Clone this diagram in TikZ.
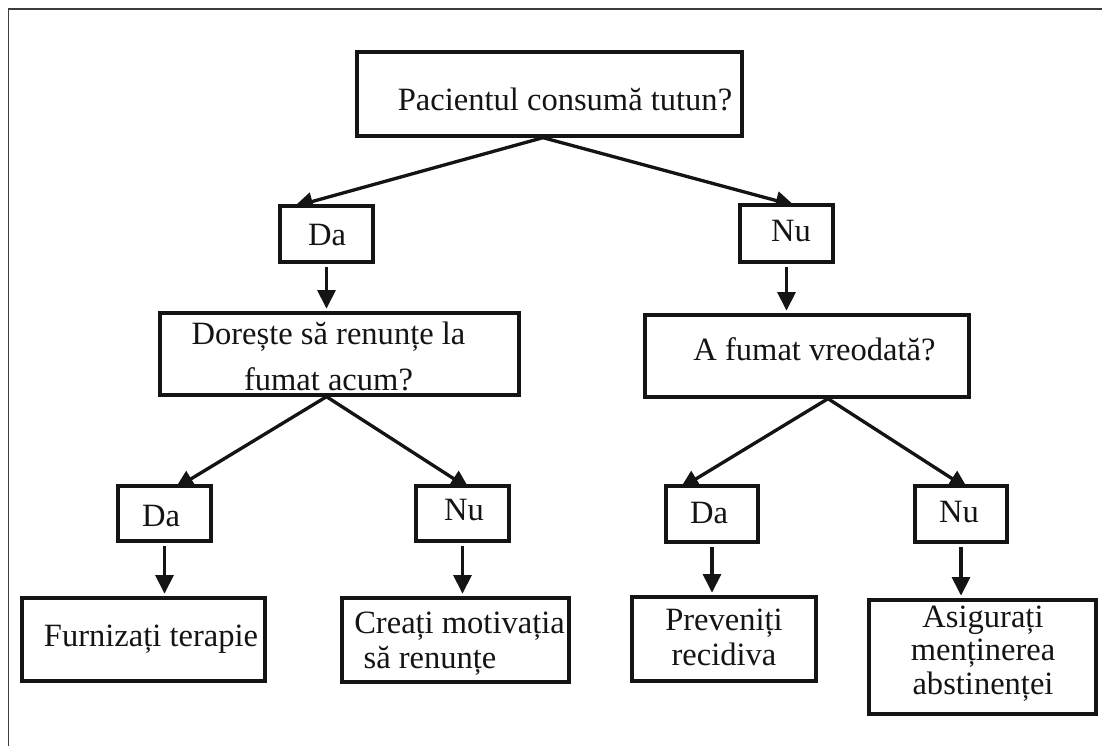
\documentclass[tikz,border=0pt]{standalone}
\usepackage{fontspec}
\setmainfont{Liberation Serif}
\usetikzlibrary{arrows.meta,calc,fit,backgrounds}
\definecolor{ink}{HTML}{141414}
\definecolor{framec}{HTML}{3C3C3C}
\begin{document}
\begin{tikzpicture}[x=0.75pt,y=-0.75pt,
  box/.style={draw=ink, line width=2.5pt, fill=white, inner sep=0pt},
  lbl/.style={font=\fontsize{24.4pt}{26pt}\selectfont, text=ink, inner sep=0pt, anchor=base},
  arr/.style={draw=ink, line width=2.5pt, -{Triangle[width=13.5pt,length=14pt]}},
  vert/.style={arr, shorten <=2.5pt, shorten >=2pt},
  diag/.style={arr, shorten >=-6pt},
  frame/.style={draw=framec, line width=1.2pt}
]
\useasboundingbox (0,0) rectangle (1102,746);
\draw[frame] (8.5,746) -- (8.5,9) -- (1102,9);

% boxes
\node[box, fit={(357,52) (742,136)}] (q1) {};
\node[box, fit={(280,206) (373,262)}] (da1) {};
\node[box, fit={(740,205) (833,262)}] (nu1) {};
\node[box, fit={(160,313) (519,395)}] (q2) {};
\node[box, fit={(645,315) (969,397)}] (q3) {};
\node[box, fit={(118,486) (211,541)}] (da2) {};
\node[box, fit={(416,486) (509,541)}] (nu2) {};
\node[box, fit={(666,486) (758,542)}] (da3) {};
\node[box, fit={(915,486) (1007,542)}] (nu3) {};
\node[box, fit={(22,598) (265,681)}] (r1) {};
\node[box, fit={(342,598) (569,682)}] (r2) {};
\node[box, fit={(632,597) (816,681)}] (r3) {};
\node[box, fit={(869,600) (1096,714)}] (r4) {};

% texts (multi-line nodes are anchored at the baseline of their last line)
\node[lbl] (tq1) at (565,110) {Pacientul consumă tutun?};
\node[lbl] (tda1) at (327,245) {Da};
\node[lbl] (tnu1) at (791,241) {Nu};
\node[lbl, align=center, font=\fontsize{24.4pt}{34.5pt}\selectfont] (tq2) at (328.5,390) {Dorește să renunțe la\\fumat acum?};
\node[lbl] (tq3) at (814.5,360) {A fumat vreodată?};
\node[lbl] (tda2) at (161,526) {Da};
\node[lbl] (tnu2) at (464,520) {Nu};
\node[lbl] (tda3) at (709,523) {Da};
\node[lbl] (tnu3) at (959,522) {Nu};
\node[lbl] (tr1) at (151,646) {Furnizați terapie};
\node[lbl, align=left, anchor=base west] (tr2) at (354,668) {Creați motivația\\\hspace*{7pt}să renunțe};
\node[lbl, align=center] (tr3) at (724,665) {Preveniți\\recidiva};
\node[lbl, align=center, font=\fontsize{24.4pt}{25pt}\selectfont] (tr4) at (983,694) {Asigurați\\menținerea\\abstinenței};

% connectors
\begin{scope}[on background layer]
\coordinate (a1) at ($(q1.south)+(-6.5,0)$);
\draw[diag] (a1) -- ($(da1.north)+(-24.5,0)$);
\draw[diag] (a1) -- (nu1.north);
\draw[vert] (da1.south) -- (da1.south |- q2.north);
\draw[vert] (nu1.south) -- (nu1.south |- q3.north);
\coordinate (a2) at (da1.south |- q2.south);
\draw[diag] (a2) -- ($(da2.north)+(17.5,0)$);
\draw[diag] (a2) -- (nu2.north);
\coordinate (a3) at ($(q3.south)+(21,0)$);
\draw[diag] (a3) -- ($(da3.north)+(-25,0)$);
\draw[diag] (a3) -- (nu3.north);
\draw[vert] (da2.south) -- (da2.south |- r1.north);
\draw[vert] (nu2.south) -- (nu2.south |- r2.north);
\draw[vert] (da3.south) -- (da3.south |- r3.north);
\draw[vert] (nu3.south) -- (nu3.south |- r4.north);
\end{scope}
\end{tikzpicture}
\end{document}
